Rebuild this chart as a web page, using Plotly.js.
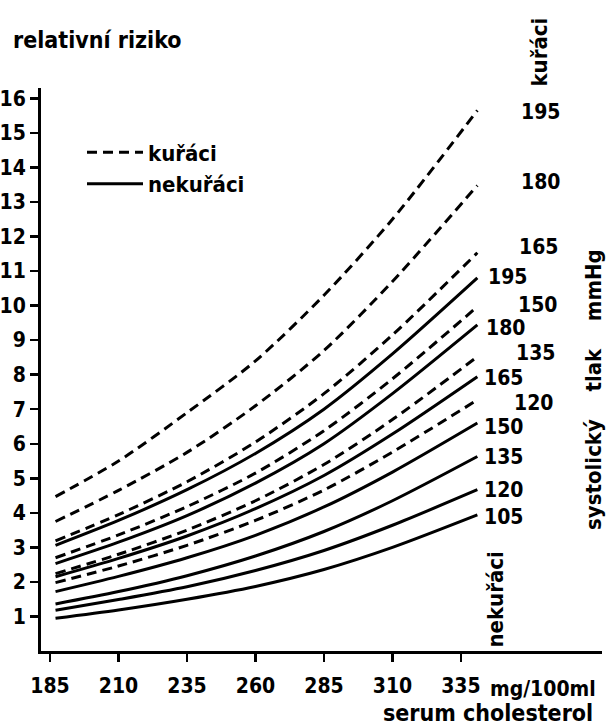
<!DOCTYPE html>
<html>
<head>
<meta charset="utf-8">
<script src="https://cdn.plot.ly/plotly-3.0.1.min.js"></script>
<style>html,body{margin:0;padding:0;background:#fff;}#chart{width:611px;height:727px;}</style>
</head>
<body>
<div id="chart"></div>
<script>
// serum cholesterol (mg/100ml) sample points
const chol = [187, 210, 235, 260, 285, 310, 341];
const xTicks = [185, 210, 235, 260, 285, 310, 335];
const yTicks = [1,2,3,4,5,6,7,8,9,10,11,12,13,14,15,16];

// kuřáci (smokers), systolic pressure 195..120 mmHg
const k195 = [4.47, 5.5, 6.9, 8.4, 10.3, 12.5, 15.65];
const k180 = [3.75, 4.65, 5.75, 7.1, 8.7, 10.7, 13.48];
const k165 = [3.19, 3.95, 4.9, 6.05, 7.45, 9.15, 11.53];
const k150 = [2.70, 3.36, 4.18, 5.15, 6.38, 7.88, 9.97];
const k135 = [2.24, 2.8, 3.5, 4.35, 5.4, 6.7, 8.52];
const k120 = [1.98, 2.46, 3.06, 3.78, 4.66, 5.76, 7.27];

// nekuřáci (non-smokers), systolic pressure 195..105 mmHg
const n195 = [3.06, 3.78, 4.67, 5.72, 7.0, 8.6, 10.8];
const n180 = [2.53, 3.15, 3.92, 4.86, 6.0, 7.45, 9.44];
const n165 = [2.15, 2.68, 3.33, 4.12, 5.08, 6.28, 7.94];
const n150 = [1.72, 2.16, 2.7, 3.35, 4.17, 5.18, 6.60];
const n135 = [1.36, 1.72, 2.18, 2.75, 3.46, 4.35, 5.63];
const n120 = [1.18, 1.49, 1.86, 2.33, 2.91, 3.64, 4.67];
const n105 = [0.95, 1.19, 1.5, 1.87, 2.36, 3.0, 3.94];

const smokerSeries = [k195, k180, k165, k150, k135, k120];
const smokerLabels = ["195", "180", "165", "150", "135", "120"];
const nonSeries = [n195, n180, n165, n150, n135, n120, n105];
const nonLabels = ["195", "180", "165", "150", "135", "120", "105"];

const FONT = "'DejaVu Sans Condensed', 'DejaVu Sans', sans-serif";
const DASH = "10px,6px";

// plot-area geometry (pixels) used only to place free text
const M = {l: 41, r: 9, t: 87.5, b: 75.5};
const PW = 611 - M.l - M.r, PH = 727 - M.t - M.b;
const px = v => (v - M.l) / PW;          // pixel x -> paper x
const py = v => (727 - M.b - v) / PH;    // pixel y -> paper y

const traces = [];
smokerSeries.forEach((ys, i) => {
  traces.push({
    x: chol, y: ys, type: 'scatter', mode: 'lines',
    line: {color: '#000', width: 3, dash: DASH, shape: 'spline', smoothing: 0.8},
    name: 'kuřáci', legendgroup: 'k', showlegend: i === 0, hoverinfo: 'skip'
  });
});
nonSeries.forEach((ys, i) => {
  traces.push({
    x: chol, y: ys, type: 'scatter', mode: 'lines',
    line: {color: '#000', width: 3, dash: 'solid', shape: 'spline', smoothing: 0.8},
    name: 'nekuřáci', legendgroup: 'n', showlegend: i === 0, hoverinfo: 'skip'
  });
});

const numFont = {family: FONT, size: 21, color: '#000', weight: 'bold'};
const txtFont = {family: FONT, size: 22, color: '#000', weight: 'bold'};

// end-of-curve labels (pixel centres)
const annotations = [];
const smokerLabelPos = [[540,112],[540,182],[538,247],[537,305],[535,353],[533,403]];
const nonLabelPos = [[507,277],[505,328],[503,378],[503,427],[503,457],[503,490],[503,517]];
smokerLabels.forEach((t, i) => {
  annotations.push({x: px(smokerLabelPos[i][0]), y: py(smokerLabelPos[i][1]), xref: 'paper', yref: 'paper',
    text: t, showarrow: false, font: numFont, xanchor: 'center', yanchor: 'middle'});
});
nonLabels.forEach((t, i) => {
  annotations.push({x: px(nonLabelPos[i][0]), y: py(nonLabelPos[i][1]), xref: 'paper', yref: 'paper',
    text: t, showarrow: false, font: numFont, xanchor: 'center', yanchor: 'middle'});
});
// rotated texts
annotations.push({x: px(540), y: py(52), xref: 'paper', yref: 'paper', text: 'kuřáci', textangle: -90,
  showarrow: false, font: txtFont, xanchor: 'center', yanchor: 'middle'});
annotations.push({x: px(594), y: py(390), xref: 'paper', yref: 'paper',
  text: 'systolický&nbsp;&nbsp;&nbsp;&nbsp;tlak&nbsp;&nbsp;&nbsp;&nbsp;mmHg', textangle: -90,
  showarrow: false, font: txtFont, xanchor: 'center', yanchor: 'middle'});
annotations.push({x: px(496), y: py(600), xref: 'paper', yref: 'paper', text: 'nekuřáci', textangle: -90,
  showarrow: false, font: txtFont, xanchor: 'center', yanchor: 'middle'});
// axis unit and title
annotations.push({x: px(488), y: py(690), xref: 'paper', yref: 'paper', text: 'mg/100ml',
  showarrow: false, font: numFont, xanchor: 'left', yanchor: 'middle'});
annotations.push({x: px(488), y: py(714), xref: 'paper', yref: 'paper', text: 'serum cholesterol',
  showarrow: false, font: {family: FONT, size: 23, color: '#000', weight: 'bold'}, xanchor: 'center', yanchor: 'middle'});

const layout = {
  width: 611, height: 727,
  paper_bgcolor: '#fff', plot_bgcolor: '#fff',
  margin: M,
  title: {text: 'relativní riziko', x: 13/611, xanchor: 'left', y: 1 - 40/727, yanchor: 'middle',
    xref: 'container', yref: 'container', font: {family: FONT, size: 23, color: '#000', weight: 'bold'}},
  font: {family: FONT, color: '#000'},
  xaxis: {
    range: [181.7, 386.5], tickvals: xTicks, ticktext: xTicks.map(String),
    ticks: 'outside', ticklen: 8, tickwidth: 2.5, tickcolor: '#000',
    showline: true, linewidth: 3, linecolor: '#000', mirror: false,
    showgrid: false, zeroline: false, tickfont: numFont,
    ticklabelstandoff: 6
  },
  yaxis: {
    range: [0, 16.3], tickvals: yTicks, ticktext: yTicks.map(String),
    ticks: 'outside', ticklen: 8, tickwidth: 2.5, tickcolor: '#000',
    showline: true, linewidth: 3, linecolor: '#000', mirror: false,
    showgrid: false, zeroline: false, tickfont: numFont,
    ticklabelstandoff: 0
  },
  showlegend: true,
  legend: {x: px(82), y: py(131), xanchor: 'left', yanchor: 'top',
    bgcolor: 'rgba(0,0,0,0)', borderwidth: 0, font: txtFont,
    itemwidth: 56, tracegroupgap: 0},
  annotations: annotations
};

Plotly.newPlot('chart', traces, layout, {staticPlot: true, displayModeBar: false});
</script>
</body>
</html>
